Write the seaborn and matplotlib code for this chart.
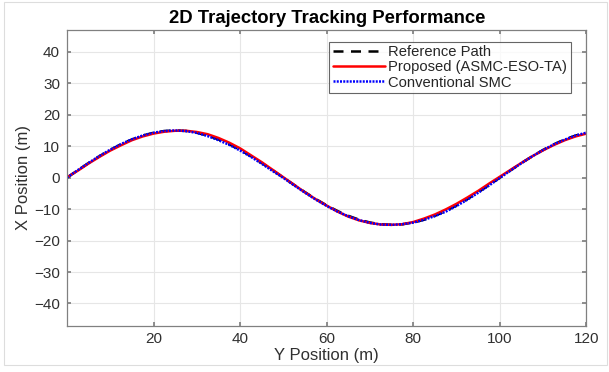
import numpy as np
import pandas as pd
import matplotlib
matplotlib.use("Agg")
import matplotlib.pyplot as plt
import seaborn as sns

# Data (Y position in m, X position in m)
y_pos = [0, 2.5, 5, 7.5, 10, 12.5, 15, 17.5, 20, 22.5, 25, 27.5, 30, 32.5, 35, 37.5, 40,
         42.5, 45, 47.5, 50, 52.5, 55, 57.5, 60, 62.5, 65, 67.5, 70, 72.5, 75, 77.5, 80,
         82.5, 85, 87.5, 90, 92.5, 95, 97.5, 100, 102.5, 105, 107.5, 110, 112.5, 115,
         117.5, 120]
x_reference = [0, 2.35, 4.64, 6.81, 8.82, 10.61, 12.14, 13.37, 14.27, 14.82, 15.0, 14.82,
               14.27, 13.37, 12.14, 10.61, 8.82, 6.81, 4.64, 2.35, 0, -2.35, -4.64, -6.81,
               -8.82, -10.61, -12.14, -13.37, -14.27, -14.82, -15.0, -14.82, -14.27, -13.37,
               -12.14, -10.61, -8.82, -6.81, -4.64, -2.35, 0, 2.35, 4.64, 6.81, 8.82, 10.61,
               12.14, 13.37, 14.27]
x_proposed = [0.1, 2.2, 4.5, 6.6, 8.6, 10.3, 11.9, 13.1, 14.0, 14.6, 14.9, 14.9, 14.5,
              13.8, 12.6, 11.1, 9.3, 7.1, 4.9, 2.5, 0.1, -2.3, -4.7, -6.9, -8.9, -10.8,
              -12.4, -13.6, -14.4, -14.9, -15.0, -14.8, -14.1, -13.0, -11.7, -10.1, -8.3,
              -6.3, -4.2, -1.9, 0.3, 2.5, 4.7, 6.8, 8.7, 10.4, 11.9, 13.1, 14.0]
x_conventional = [0, 2.4, 4.7, 6.9, 8.9, 10.7, 12.2, 13.4, 14.3, 14.8, 15.0, 14.8, 14.2,
                  13.2, 11.9, 10.4, 8.6, 6.6, 4.4, 2.1, -0.1, -2.5, -4.8, -7.0, -9.0, -10.8,
                  -12.3, -13.5, -14.4, -14.9, -15.0, -14.8, -14.3, -13.4, -12.2, -10.8,
                  -9.0, -7.0, -4.8, -2.5, -0.1, 2.3, 4.6, 6.8, 8.8, 10.6, 12.1, 13.4, 14.3]

series_names = ["Reference Path", "Proposed (ASMC-ESO-TA)", "Conventional SMC"]

df = pd.DataFrame({
    "Y": y_pos * 3,
    "X": x_reference + x_proposed + x_conventional,
    "series": [series_names[0]] * len(y_pos) + [series_names[1]] * len(y_pos)
              + [series_names[2]] * len(y_pos),
})

sns.set_theme(style="whitegrid")
plt.rcParams["font.family"] = ["Liberation Sans", "DejaVu Sans"]

fig = plt.figure(figsize=(6.09, 3.72), dpi=100)
ax = fig.add_axes([0.110, 0.125, 0.853, 0.795])

styles = {
    series_names[0]: dict(color="black", lw=1.8, dashes=(4, 3)),
    series_names[1]: dict(color="#ff0000", lw=1.8),
    series_names[2]: dict(color="#0000ff", lw=1.8, dashes=(0.8, 0.5)),
}
for name in series_names:
    sub = df[df["series"] == name]
    st = styles[name]
    sns.lineplot(data=sub, x="Y", y="X", color=st["color"], linewidth=st["lw"],
                 label=name, ax=ax, sort=True)
    ln = ax.lines[-1]
    if "dashes" in st:
        ln.set_dashes(st["dashes"])

ax.set_xlim(0, 120)
ax.set_ylim(-47, 47)
ax.set_xticks([20, 40, 60, 80, 100, 120])
ax.set_yticks([-40, -30, -20, -10, 0, 10, 20, 30, 40])
ax.set_facecolor("white")
ax.grid(True, color="#e6e6e6", linewidth=0.8)
for s in ax.spines.values():
    s.set_color("#808080")
    s.set_linewidth(0.9)
ax.tick_params(axis="both", direction="in", length=3, color="#808080",
               labelsize=11, labelcolor="#303030", top=True, right=True,
               bottom=True, left=True, pad=5)
ax.set_xlabel("Y Position (m)", fontsize=12, color="#303030", labelpad=1)
ax.set_ylabel("X Position (m)", fontsize=12, color="#303030", labelpad=2)
ax.set_title("2D Trajectory Tracking Performance", fontsize=13.3, fontweight="bold",
             color="black", pad=5)

leg = ax.legend(loc="upper right", fontsize=10.6, frameon=True, fancybox=False,
                edgecolor="#404040", handlelength=3.5, handletextpad=0.25,
                borderpad=0.25, labelspacing=0.08, borderaxespad=0,
                bbox_to_anchor=(0.97, 0.96))
leg.get_frame().set_linewidth(0.8)

# light frame around the figure
fig.patches.append(plt.Rectangle((0.006, 0.02), 0.99, 0.975, transform=fig.transFigure,
                                 fill=False, edgecolor="#dddddd", linewidth=0.8))

fig.savefig("out.png", dpi=100, facecolor="white")
